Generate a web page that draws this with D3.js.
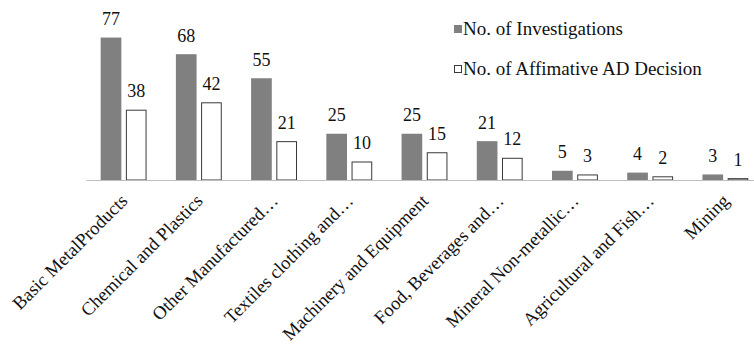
<!DOCTYPE html>
<html>
<head>
<meta charset="utf-8">
<script src="https://cdn.jsdelivr.net/npm/d3@7"></script>
<style>
  html, body { margin: 0; padding: 0; background: #fff; }
  svg { display: block; }
  svg text { font-family: "Liberation Serif", "Times New Roman", serif; fill: #111; }
</style>
</head>
<body>
<svg id="chart" width="754" height="348"></svg>
<script>
// Anti-dumping investigations by sector
const categories = [
  "Basic MetalProducts",
  "Chemical and Plastics",
  "Other Manufactured\u2026",
  "Textiles clothing and\u2026",
  "Machinery and Equipment",
  "Food, Beverages and\u2026",
  "Mineral Non-metallic\u2026",
  "Agricultural and Fish\u2026",
  "Mining"
];
const investigations = [77, 68, 55, 25, 25, 21, 5, 4, 3];
const affirmative = [38, 42, 21, 10, 15, 12, 3, 2, 1];
const seriesNames = ["No. of Investigations", "No. of Affimative AD Decision"];

const FONT = '"Liberation Serif", "Times New Roman", serif';
const svg = d3.select("#chart");
const baseY = 180;

const x = d3.scaleBand()
  .domain(categories)
  .range([86, 763])
  .paddingInner(0.39)
  .paddingOuter(0.195);

const x1 = d3.scaleBand()
  .domain([0, 1])
  .range([0, x.bandwidth()])
  .paddingInner(0.18);

const y = d3.scaleLinear()
  .domain([0, 90])
  .range([baseY, 13.5]);

const rows = categories.map((c, i) => ({ cat: c, vals: [investigations[i], affirmative[i]] }));

// bars
const groups = svg.append("g").selectAll("g")
  .data(rows)
  .join("g")
  .attr("transform", d => `translate(${x(d.cat)},0)`);

groups.selectAll("rect")
  .data(d => d.vals.map((v, k) => ({ v, k })))
  .join("rect")
  .attr("x", d => x1(d.k) + (d.k === 1 ? 0.5 : 0))
  .attr("y", d => y(d.v) + (d.k === 1 ? 0.5 : 0))
  .attr("width", d => x1.bandwidth() - (d.k === 1 ? 1 : 0))
  .attr("height", d => Math.max(0, baseY - y(d.v) - (d.k === 1 ? 0.5 : 0)))
  .attr("fill", d => d.k === 0 ? "#808080" : "#fff")
  .attr("stroke", d => d.k === 0 ? "none" : "#3a3a3a")
  .attr("stroke-width", 1);

// value labels
groups.selectAll("text.val")
  .data(d => d.vals.map((v, k) => ({ v, k })))
  .join("text")
  .attr("class", "val")
  .attr("x", d => x1(d.k) + x1.bandwidth() / 2)
  .attr("y", d => y(d.v) - 12.5)
  .attr("text-anchor", "middle")
  .style("font-family", FONT)
  .style("font-size", "18px")
  .style("fill", "#111")
  .text(d => d.v);

// category axis
const axis = svg.append("g")
  .attr("transform", `translate(0,${baseY})`)
  .call(d3.axisBottom(x).tickSize(0).tickPadding(0));
axis.select(".domain").attr("stroke", "#bdbdbd").attr("stroke-width", 1.2);
axis.selectAll(".tick text")
  .style("font-family", FONT)
  .style("font-size", "18.5px")
  .style("fill", "#111")
  .attr("text-anchor", "end")
  .attr("dy", 0)
  .attr("transform", "translate(5,22) rotate(-45)");

// legend
const legend = svg.append("g");
const legendY = [25, 65];
seriesNames.forEach((name, k) => {
  legend.append("rect")
    .attr("x", k === 0 ? 454 : 454.5)
    .attr("y", k === 0 ? legendY[k] : legendY[k] + 0.5)
    .attr("width", k === 0 ? 8 : 7)
    .attr("height", k === 0 ? 8 : 7)
    .attr("fill", k === 0 ? "#808080" : "#fff")
    .attr("stroke", k === 0 ? "none" : "#3a3a3a");
  legend.append("text")
    .attr("x", 463)
    .attr("y", legendY[k] + 10)
    .style("font-family", FONT)
    .style("font-size", "19px")
    .style("fill", "#111")
    .text(name);
});
</script>
</body>
</html>
